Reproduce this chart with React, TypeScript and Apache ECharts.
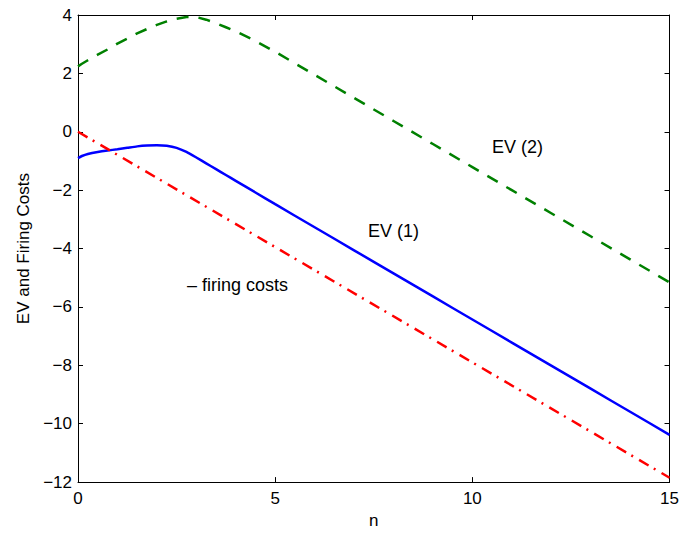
import React, { useEffect, useRef } from "react";
import * as echarts from "echarts";

const nValues = [0, 0.1, 0.25, 0.5, 0.75, 1, 1.25, 1.5, 1.75, 2, 2.25, 2.5, 2.75, 3, 3.25, 3.5, 3.75, 4, 4.5, 5, 6, 7, 8, 9, 10, 11, 12, 13, 14, 15];
const ev1 = [-0.9, -0.83, -0.76, -0.69, -0.64, -0.6, -0.55, -0.5, -0.47, -0.46, -0.48, -0.55, -0.69, -0.88, -1.08, -1.28, -1.48, -1.68, -2.08, -2.48, -3.27, -4.06, -4.85, -5.64, -6.43, -7.22, -8.01, -8.8, -9.59, -10.38];
const ev2 = [2.24, 2.33, 2.45, 2.64, 2.82, 3.02, 3.19, 3.37, 3.52, 3.66, 3.78, 3.87, 3.93, 3.93, 3.84, 3.72, 3.58, 3.44, 3.11, 2.74, 1.95, 1.16, 0.37, -0.42, -1.21, -2.0, -2.79, -3.58, -4.37, -5.16];
const firingN = [0, 5, 10, 15];
const firingCost = [0, -3.95, -7.9, -11.85];

const xTicks = { min: 0, max: 15, interval: 5 };
const yTicks = { min: -12, max: 4, interval: 2 };

const FONT = "Liberation Sans, Arial, Helvetica, sans-serif";

const fmt = (v: number) => (v < 0 ? "\u2212" + Math.abs(v) : String(v));

export default function App() {
  const ref = useRef<HTMLDivElement>(null);
  useEffect(() => {
    if (!ref.current) return;
    const chart = echarts.init(ref.current, undefined, { renderer: "svg" });
    const axisCommon = {
      type: "value" as const,
      splitLine: { show: false },
      axisLine: { show: true, onZero: false, lineStyle: { color: "#000", width: 1 } },
      axisTick: { show: true, inside: true, length: 5, lineStyle: { color: "#000" } },
    };
    chart.setOption({
      animation: false,
      backgroundColor: "#fff",
      grid: { left: 78, right: 9, top: 15, bottom: 49 },
      xAxis: [
        {
          ...axisCommon,
          position: "bottom",
          ...xTicks,
          name: "n",
          nameLocation: "middle",
          nameGap: 27,
          nameTextStyle: { color: "#000", fontSize: 17, fontFamily: FONT },
          axisLabel: { color: "#000", fontSize: 17, fontFamily: FONT, margin: 8, formatter: fmt },
        },
        {
          ...axisCommon,
          position: "top",
          ...xTicks,
          axisLabel: { show: false },
        },
      ],
      yAxis: [
        {
          ...axisCommon,
          position: "left",
          ...yTicks,
          name: "EV and Firing Costs",
          nameLocation: "middle",
          nameRotate: 90,
          nameGap: 45,
          nameTextStyle: { color: "#000", fontSize: 17, fontFamily: FONT },
          axisLabel: { color: "#000", fontSize: 17, fontFamily: FONT, margin: 6, formatter: fmt },
        },
        {
          ...axisCommon,
          position: "right",
          ...yTicks,
          axisLabel: { show: false },
        },
      ],
      series: [
        {
          type: "line",
          name: "EV (2)",
          data: nValues.map((n, i) => [n, ev2[i]]),
          showSymbol: false,
          lineStyle: { color: "#008000", width: 2.5, type: [12, 10] },
          z: 3,
        },
        {
          type: "line",
          name: "EV (1)",
          data: nValues.map((n, i) => [n, ev1[i]]),
          showSymbol: false,
          smooth: 0.2,
          lineStyle: { color: "#0000ff", width: 2.5, type: "solid" },
          z: 3,
        },
        {
          type: "line",
          name: "- firing costs",
          data: firingN.map((n, i) => [n, firingCost[i]]),
          showSymbol: false,
          lineStyle: { color: "#ff0000", width: 2.5, type: [11, 6, 2, 7] },
          z: 3,
        },
      ],
      graphic: [
        { type: "text", left: 492, top: 138, style: { text: "EV (2)", fill: "#000", fontSize: 18, fontFamily: FONT } },
        { type: "text", left: 368, top: 222, style: { text: "EV (1)", fill: "#000", fontSize: 18, fontFamily: FONT } },
        { type: "text", left: 187, top: 276, style: { text: "\u2013 firing costs", fill: "#000", fontSize: 18, fontFamily: FONT } },
      ],
    });
    return () => chart.dispose();
  }, []);
  return (
    <div
      ref={ref}
      style={{ position: "absolute", left: 0, top: 0, width: 682, height: 534, background: "#fff" }}
    />
  );
}
